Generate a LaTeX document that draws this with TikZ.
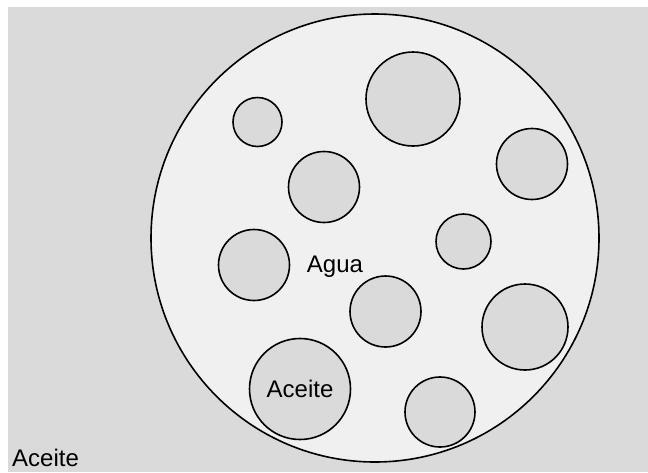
\documentclass[tikz,border=0pt]{standalone}
\usepackage{fontspec}
\setmainfont{Liberation Sans}
\usepackage{tikz}
\definecolor{oilgray}{RGB}{218,218,218}
\definecolor{watergray}{RGB}{240,240,240}
\definecolor{dropgray}{RGB}{218,218,218}

\begin{document}
\begin{tikzpicture}[
        x=1pt, y=-1pt,
        label text/.style={font=\fontsize{24pt}{28pt}\selectfont, inner sep=0pt},
        drop/.style={circle, draw=black, line width=1.6pt, fill=dropgray, inner sep=0pt},
        water/.style={circle, draw=black, line width=1.6pt, fill=watergray, inner sep=0pt}
    ]
    \useasboundingbox (0,0) rectangle (648,472);
    \fill[white] (0,0) rectangle (648,472);
    \fill[oilgray] (8,7) rectangle (648,472);
    % large water drop
    \node[water, minimum size=448pt] (agua) at (375,238) {};
    % oil droplets
    \foreach \name/\x/\y/\r in {d1/257.5/122/24.5, d2/413/99/47, d3/532/164/35.5,
            d4/324/187/35.5, d5/463.5/241.5/27.5, d6/254/265/35.5,
            d7/385.5/311.5/35.5, d8/525/327/43, d10/440/412/35}
        \node[drop, minimum size=2*\r pt] (\name) at (\x,\y) {};
    \node[drop, minimum size=101pt, label text] (d9) at (300,389) {Aceite};
    \node[label text] (agualabel) at (335,267) {Agua};
    \node[label text, anchor=base west] (aceitelabel) at (12,466) {Aceite};
\end{tikzpicture}
\end{document}
